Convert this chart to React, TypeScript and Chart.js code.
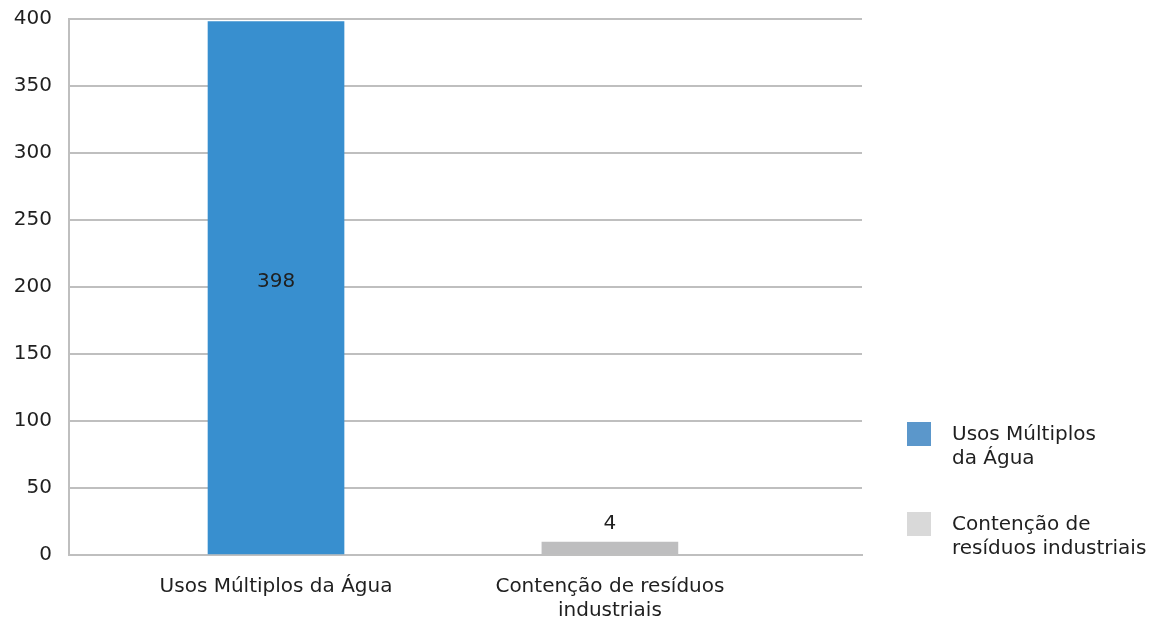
import React, { useEffect, useRef } from "react";
import { Chart, registerables } from "chart.js";

Chart.register(...registerables);

const categories: (string | string[])[] = [
  "Usos Múltiplos da Água",
  ["Contenção de resíduos", "industriais"],
];
const legendLabels: string[][] = [
  ["Usos Múltiplos", "da Água"],
  ["Contenção de", "resíduos industriais"],
];
const values: number[] = [398, 4];
const barColors: string[] = ["#388fcf", "#bebebf"];
const legendColors: string[] = ["#5b97cb", "#d9d9d9"];
const yTicks: number[] = [0, 50, 100, 150, 200, 250, 300, 350, 400];

const FONT = "'DejaVu Sans', sans-serif";
const TEXT = "#1f1f1f";
const FS = 20;

const labelPlugin = {
  id: "valueLabels",
  afterDatasetsDraw(chart: any) {
    const ctx = chart.ctx;
    const meta = chart.getDatasetMeta(0);
    ctx.save();
    ctx.font = `${FS}px ${FONT}`;
    ctx.fillStyle = TEXT;
    ctx.textAlign = "center";
    meta.data.forEach((bar: any, i: number) => {
      const v = values[i];
      const { x, y, base } = bar.getProps(["x", "y", "base"], true);
      if (base - y > 60) {
        ctx.textBaseline = "middle";
        ctx.fillText(String(v), x, (y + base) / 2 - 6);
      } else {
        ctx.textBaseline = "bottom";
        ctx.fillText(String(v), x, y - 8);
      }
    });
    ctx.restore();
  },
};

export default function App() {
  const ref = useRef<HTMLCanvasElement | null>(null);

  useEffect(() => {
    if (!ref.current) return;
    const chart = new Chart(ref.current, {
      type: "bar",
      data: {
        datasets: [
          {
            data: values.map((v, i) => ({ x: i, y: v })),
            backgroundColor: barColors,
            barThickness: 136,
            minBarLength: 13,
          },
        ],
      },
      options: {
        animation: false,
        responsive: false,
        maintainAspectRatio: false,
        layout: { padding: { left: 0, top: 19, right: 299, bottom: 0 } },
        plugins: { legend: { display: false }, tooltip: { enabled: false } },
        scales: {
          x: {
            type: "linear",
            min: -0.62,
            max: 1.755,
            offset: false,
            bounds: "ticks",
            grid: { display: false, drawTicks: false, offset: false },
            border: { display: true, color: "#bfbfbf", width: 2 },
            afterDataLimits: (s: any) => {
              s.min = -0.62;
              s.max = 1.755;
            },
            afterBuildTicks: (s: any) => {
              s.ticks = categories.map((_, i) => ({ value: i }));
            },
            afterFit: (s: any) => {
              s.height = 64;
              s.paddingLeft = 0;
              s.paddingRight = 0;
            },
            ticks: {
              autoSkip: false,
              maxRotation: 0,
              padding: 20,
              color: TEXT,
              font: { family: FONT, size: FS },
              callback: (v: any) => categories[Number(v)] as any,
            },
          },
          y: {
            min: 0,
            max: 400,
            afterBuildTicks: (s: any) => {
              s.ticks = yTicks.map((v) => ({ value: v }));
            },
            afterFit: (s: any) => {
              s.width = 69;
              s.paddingTop = 0;
              s.paddingBottom = 0;
            },
            grid: { color: "#bfbfbf", lineWidth: 2, drawTicks: false },
            border: { display: true, color: "#bfbfbf", width: 2 },
            ticks: {
              padding: 17,
              color: TEXT,
              font: { family: FONT, size: FS },
            },
          },
        },
      },
      plugins: [labelPlugin],
    });
    return () => chart.destroy();
  }, []);

  return (
    <div
      style={{
        position: "fixed",
        left: 0,
        top: 0,
        width: 1161,
        height: 619,
        background: "#fff",
      }}
    >
      <canvas ref={ref} width={1161} height={619} style={{ display: "block" }} />
      {legendLabels.map((lines, i) => (
        <div
          key={i}
          style={{
            position: "absolute",
            left: 907,
            top: 422 + i * 90,
            display: "flex",
            alignItems: "flex-start",
            fontFamily: FONT,
            fontSize: FS,
            lineHeight: "24px",
            color: TEXT,
          }}
        >
          <div
            style={{
              width: 24,
              height: 24,
              background: legendColors[i],
              flex: "none",
            }}
          />
          <div style={{ marginLeft: 21, marginTop: -1 }}>
            {lines.map((l, j) => (
              <div key={j}>{l}</div>
            ))}
          </div>
        </div>
      ))}
    </div>
  );
}
